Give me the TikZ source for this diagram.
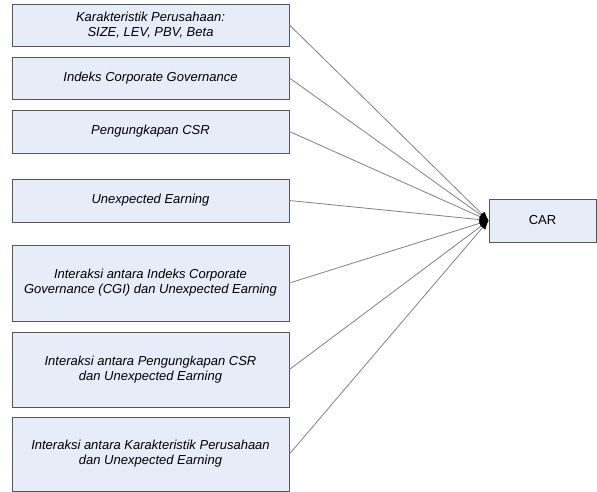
\documentclass[tikz,border=0pt]{standalone}
\usepackage{fontspec}
\setmainfont{Liberation Sans}
\usetikzlibrary{arrows.meta}
\definecolor{boxfill}{HTML}{E6ECF8}
\definecolor{boxline}{HTML}{555555}
\definecolor{wire}{HTML}{808080}

\begin{document}
\begin{tikzpicture}[x=1pt,y=1pt]
\tikzstyle{var}=[draw=boxline,fill=boxfill,line width=0.9pt,inner sep=0pt,minimum width=277pt,align=center,font=\fontsize{13}{15}\selectfont\itshape];
\tikzstyle{link}=[draw=wire,line width=0.8pt,-{Latex[length=9pt,width=7pt,color=black]}];
\useasboundingbox (0,0) rectangle (597,-492);
\node[var,minimum height=42pt] (karakter) at (150.5,-25) {Karakteristik Perusahaan:\\SIZE, LEV, PBV, Beta};
\node[var,minimum height=42pt] (cgi) at (150.5,-78) {Indeks Corporate Governance};
\node[var,minimum height=43pt] (csr) at (150.5,-131.5) {Pengungkapan CSR};
\node[var,minimum height=43pt] (ue) at (150.5,-200.5) {Unexpected Earning};
\node[var,minimum height=76pt] (cgiue) at (150.5,-283) {Interaksi antara Indeks Corporate\\Governance (CGI) dan Unexpected Earning};
\node[var,minimum height=75pt] (csrue) at (150.5,-369.5) {Interaksi antara Pengungkapan CSR\\dan Unexpected Earning};
\node[var,minimum height=74pt] (karue) at (150.5,-454) {Interaksi antara Karakteristik Perusahaan\\dan Unexpected Earning};
\node[var,font=\fontsize{13}{15}\selectfont,minimum width=107pt,minimum height=43pt] (car) at (542.5,-220.5) {CAR};
% semua variabel ke CAR
\foreach \v in {karakter,cgi,csr,ue,cgiue,csrue,karue}
	\draw[link] (\v.east) -- (car.west);
\end{tikzpicture}
\end{document}
